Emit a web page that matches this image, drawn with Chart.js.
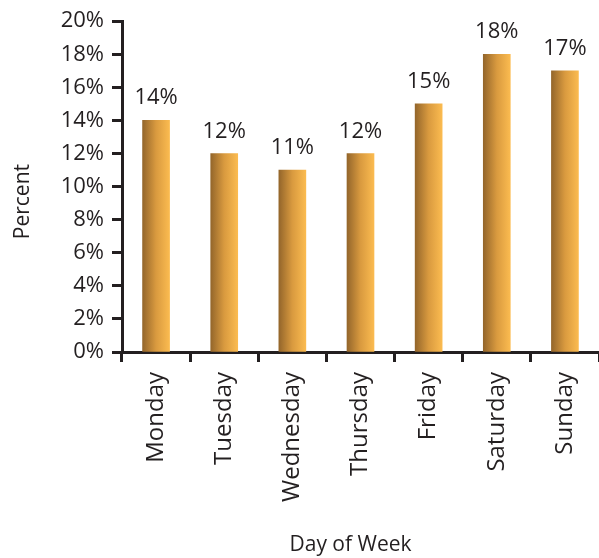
<!DOCTYPE html>
<html>
<head>
<meta charset="utf-8">
<script src="https://cdn.jsdelivr.net/npm/chart.js@4/dist/chart.umd.min.js"></script>
<style>
  html, body { margin: 0; padding: 0; background: #fff; }
  #wrap { width: 599px; height: 558px; position: relative; }
</style>
</head>
<body>
<div id="wrap"><canvas id="chart"></canvas></div>
<script>
const days = ['Monday', 'Tuesday', 'Wednesday', 'Thursday', 'Friday', 'Saturday', 'Sunday'];
const percent = [14, 12, 11, 12, 15, 18, 17];
const yTitle = 'Percent';
const xTitle = 'Day of Week';

const ink = '#231f20';
const fontFamily = '"Open Sans", sans-serif';
const barWidth = 27;

// gradient across each bar, dark on the left, light on the right
function barFill(ctx) {
  const chart = ctx.chart;
  if (!chart.chartArea) return '#e0a040';
  const cx = chart.scales.x.getPixelForValue(ctx.dataIndex);
  const g = chart.ctx.createLinearGradient(cx - barWidth / 2, 0, cx + barWidth / 2, 0);
  g.addColorStop(0, '#94662b');
  g.addColorStop(0.5, '#d99a3f');
  g.addColorStop(1, '#fbbb50');
  return g;
}

// value labels above bars + the two axis titles
const annotate = {
  id: 'annotate',
  afterDatasetsDraw(chart) {
    const c = chart.ctx;
    const area = chart.chartArea;
    c.save();
    c.fillStyle = ink;
    c.textAlign = 'center';
    c.font = '22px ' + fontFamily;
    c.textBaseline = 'alphabetic';
    chart.getDatasetMeta(0).data.forEach((bar, i) => {
      c.fillText(percent[i] + '%', bar.x, bar.y - 16);
    });

    c.font = '21px ' + fontFamily;
    c.textBaseline = 'middle';
    c.fillText(xTitle, (area.left + area.right) / 2 - 10, 545);

    c.translate(23, (area.top + area.bottom) / 2 + 15);
    c.rotate(-Math.PI / 2);
    c.fillText(yTitle, 0, 0);
    c.restore();
  }
};

new Chart(document.getElementById('chart'), {
  type: 'bar',
  data: {
    labels: days,
    datasets: [{
      data: percent,
      backgroundColor: barFill,
      barThickness: barWidth
    }]
  },
  options: {
    responsive: true,
    maintainAspectRatio: false,
    animation: false,
    layout: { padding: { top: 3, right: 0, bottom: 0, left: 0 } },
    plugins: {
      legend: { display: false },
      tooltip: { enabled: false }
    },
    scales: {
      x: {
        afterFit: s => { s.height = 206; s.paddingRight = 0; s.paddingLeft = 0; },
        grid: {
          offset: true,
          drawOnChartArea: false,
          tickLength: 10,
          tickWidth: 3,
          color: ink
        },
        border: { color: ink, width: 3 },
        ticks: {
          minRotation: 90,
          maxRotation: 90,
          padding: 10,
          color: ink,
          font: { family: fontFamily, size: 24 }
        }
      },
      y: {
        min: 0,
        max: 20,
        afterFit: s => { s.width = 122; },
        ticks: {
          stepSize: 2,
          padding: 8,
          color: ink,
          font: { family: fontFamily, size: 22 },
          callback: v => v + '%'
        },
        grid: {
          drawOnChartArea: false,
          tickLength: 10,
          tickWidth: 3,
          color: ink
        },
        border: { color: ink, width: 3 }
      }
    }
  },
  plugins: [annotate]
});
</script>
</body>
</html>
